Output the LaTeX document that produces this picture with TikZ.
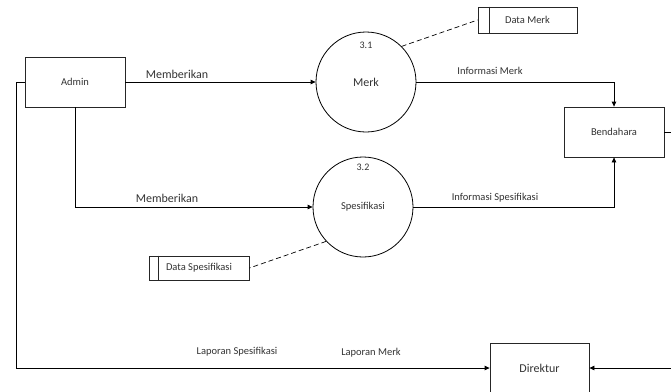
\documentclass[tikz,border=0pt]{standalone}
\usepackage{fontspec}
\setmainfont{Carlito}
\usetikzlibrary{arrows.meta}
\begin{document}
\begin{tikzpicture}[x=1pt,y=-1pt,
  every node/.style={text=black!80},
  entity/.style={draw=black!85,line width=0.8pt,minimum width=100pt,minimum height=50pt,inner sep=0pt,font=\fontsize{10.5}{12}\selectfont},
  proc/.style={draw=black,line width=0.8pt,circle,minimum size=100pt,inner sep=0pt},
  store/.style={draw=black!85,line width=0.8pt,minimum width=100pt,inner sep=0pt,font=\fontsize{10.5}{12}\selectfont},
  flow/.style={line width=0.8pt,-{Triangle[length=5pt,width=4.5pt]}},
  plain/.style={line width=0.8pt},
  link/.style={line width=0.7pt,dashed,dash pattern=on 5pt off 3pt},
  lbl/.style={font=\fontsize{10.5}{12}\selectfont,inner sep=0pt},
  biglbl/.style={font=\fontsize{12}{14}\selectfont,inner sep=0pt},
  num/.style={font=\fontsize{10}{12}\selectfont,inner sep=0pt}]
\useasboundingbox (0,0) rectangle (671,391);
\fill[white] (0,0) rectangle (671,391);

% entities
\node[entity] (admin) at (75,82) {Admin};
\node[entity] (bend) at (614,132) {Bendahara};
\node[entity,font=\fontsize{12}{14}\selectfont,minimum width=99pt] (dir) at (539.5,368) {Direktur};

% processes
\node[proc,font=\fontsize{12}{14}\selectfont] (merk) at (366,82) {Merk};
\node[num] (n31) at (366,45) {3.1};
\node[proc,font=\fontsize{10.5}{12}\selectfont] (spes) at (363,207) {Spesifikasi};
\node[num] (n32) at (363,167) {3.2};

% data stores
\node[store,minimum width=99pt,minimum height=26pt] (dmerk) at (527.5,20) {Data Merk};
\draw[line width=0.8pt,draw=black!85] ([xshift=12pt]dmerk.north west) -- ([xshift=12pt]dmerk.south west);
\node[store,minimum height=24pt] (dspes) at (199,268) {Data Spesifikasi};
\draw[line width=0.8pt,draw=black!85] ([xshift=10pt]dspes.north west) -- ([xshift=10pt]dspes.south west);

% free ends
\coordinate (bendR) at (671,132);
\coordinate (dirR) at (671,368);
\coordinate (leftx) at (16,82);

% flows
\draw[flow] (admin.east) -- (merk.west);
\node[biglbl] (l1) at (177,74) {Memberikan};
\draw[flow] (admin.south) |- (spes.west);
\node[biglbl] (l2) at (167,198) {Memberikan};
\draw[flow] (merk.east) -| (bend.north);
\node[lbl] (l3) at (490,71) {Informasi Merk};
\draw[flow] (spes.east) -| (bend.south);
\node[lbl] (l4) at (495,198) {Informasi Spesifikasi};
\draw[flow] (admin.west) -- (leftx) |- (dir.west);
\node[lbl] (l5) at (237,352) {Laporan Spesifikasi};
\node[lbl] (l6) at (371,353) {Laporan Merk};
\draw[plain] (bend.east) -- (bendR);
\draw[flow] (dirR) -- (dir.east);

% data links
\draw[link] (merk.45) -- (dmerk.west);
\draw[link] (spes.223) -- (dspes.east);
\end{tikzpicture}
\end{document}
